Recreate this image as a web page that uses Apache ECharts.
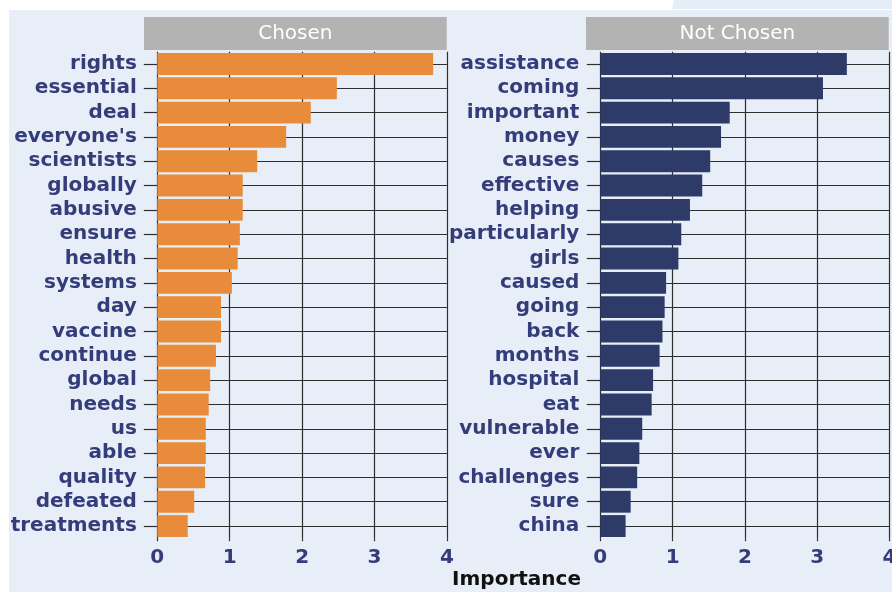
<!DOCTYPE html>
<html>
<head>
<meta charset="utf-8">
<script src="https://cdn.jsdelivr.net/npm/echarts@6/dist/echarts.min.js"></script>
<style>
html,body{margin:0;padding:0;background:#ffffff;}
#chart{width:892px;height:592px;}
</style>
</head>
<body>
<div id="chart"></div>
<script>
const chosenWords = ["rights","essential","deal","everyone's","scientists","globally","abusive","ensure","health","systems","day","vaccine","continue","global","needs","us","able","quality","defeated","treatments"];
const chosenValues = [3.81,2.48,2.12,1.78,1.38,1.18,1.18,1.14,1.11,1.03,0.88,0.88,0.81,0.73,0.71,0.67,0.67,0.66,0.51,0.42];
const notChosenWords = ["assistance","coming","important","money","causes","effective","helping","particularly","girls","caused","going","back","months","hospital","eat","vulnerable","ever","challenges","sure","china"];
const notChosenValues = [3.41,3.08,1.79,1.67,1.52,1.41,1.24,1.12,1.08,0.91,0.89,0.86,0.82,0.73,0.71,0.58,0.54,0.51,0.42,0.35];
const panelTitles = ["Chosen","Not Chosen"];
const xTicks = {min:0, max:4, interval:1};
const xTitle = "Importance";

const FONT = "DejaVu Sans";
const NAVY_TEXT = "#343C7A";
const GRIDC = "#2e2e2e";

const chart = echarts.init(document.getElementById('chart'), null, {renderer:'canvas'});

function xAxisFor(i){
  return {
    type:'value', gridIndex:i, min:xTicks.min, max:xTicks.max, interval:xTicks.interval,
    axisLine:{show:false},
    axisTick:{show:true, length:3, lineStyle:{color:GRIDC, width:1.2}},
    axisLabel:{color:NAVY_TEXT, fontFamily:FONT, fontWeight:'bold', fontSize:20, margin:10, showMinLabel:true, showMaxLabel:true},
    splitLine:{show:true, lineStyle:{color:GRIDC, width:1.2}}
  };
}
function yAxisFor(i, words, margin){
  return {
    type:'category', gridIndex:i, data:words, inverse:true,
    axisLine:{show:false},
    axisTick:{show:true, interval:0, alignWithLabel:true, length:13.5, lineStyle:{color:GRIDC, width:1.2}},
    axisLabel:{interval:0, color:NAVY_TEXT, fontFamily:FONT, fontWeight:'bold', fontSize:20, margin:margin},
    splitLine:{show:true, interval:0, alignWithLabel:true, lineStyle:{color:GRIDC, width:1.2}}
  };
}

const option = {
  backgroundColor:'#ffffff',
  animation:false,
  graphic:[
    {type:'rect', z:-10, shape:{x:9,y:10,width:883,height:582}, style:{fill:'#E8EEF8'}},
    {type:'polygon', z:-10, shape:{points:[[674,0],[892,0],[892,9],[672,9]]}, style:{fill:'#E4EEF7'}},
    {type:'rect', z:5, shape:{x:144,y:17,width:302.7,height:33}, style:{fill:'#B3B3B3'}},
    {type:'rect', z:5, shape:{x:586,y:17,width:302.7,height:33}, style:{fill:'#B3B3B3'}},
    {type:'text', z:6, x:295.3, y:33.5, style:{text:panelTitles[0], fill:'#ffffff', font:'20px "'+FONT+'"', textAlign:'center', textVerticalAlign:'middle'}},
    {type:'text', z:6, x:737.3, y:33.5, style:{text:panelTitles[1], fill:'#ffffff', font:'20px "'+FONT+'"', textAlign:'center', textVerticalAlign:'middle'}},
    {type:'text', z:6, x:516.5, y:580, style:{text:xTitle, fill:'#111111', font:'bold 20px "'+FONT+'"', textAlign:'center', textVerticalAlign:'middle'}}
  ],
  grid:[
    {left:157.3, top:51.8, width:289.6, height:486.4, outerBoundsMode:'none', containLabel:false},
    {left:600.3, top:51.8, width:289.2, height:486.4, outerBoundsMode:'none', containLabel:false}
  ],
  xAxis:[xAxisFor(0), xAxisFor(1)],
  yAxis:[yAxisFor(0, chosenWords, 20.5), yAxisFor(1, notChosenWords, 21)],
  series:[
    {type:'bar', xAxisIndex:0, yAxisIndex:0, data:chosenValues, barCategoryGap:'10%', itemStyle:{color:'#E88B3A'}, z:3},
    {type:'bar', xAxisIndex:1, yAxisIndex:1, data:notChosenValues, barCategoryGap:'10%', itemStyle:{color:'#2E3A68'}, z:3}
  ]
};
chart.setOption(option);
</script>
</body>
</html>
